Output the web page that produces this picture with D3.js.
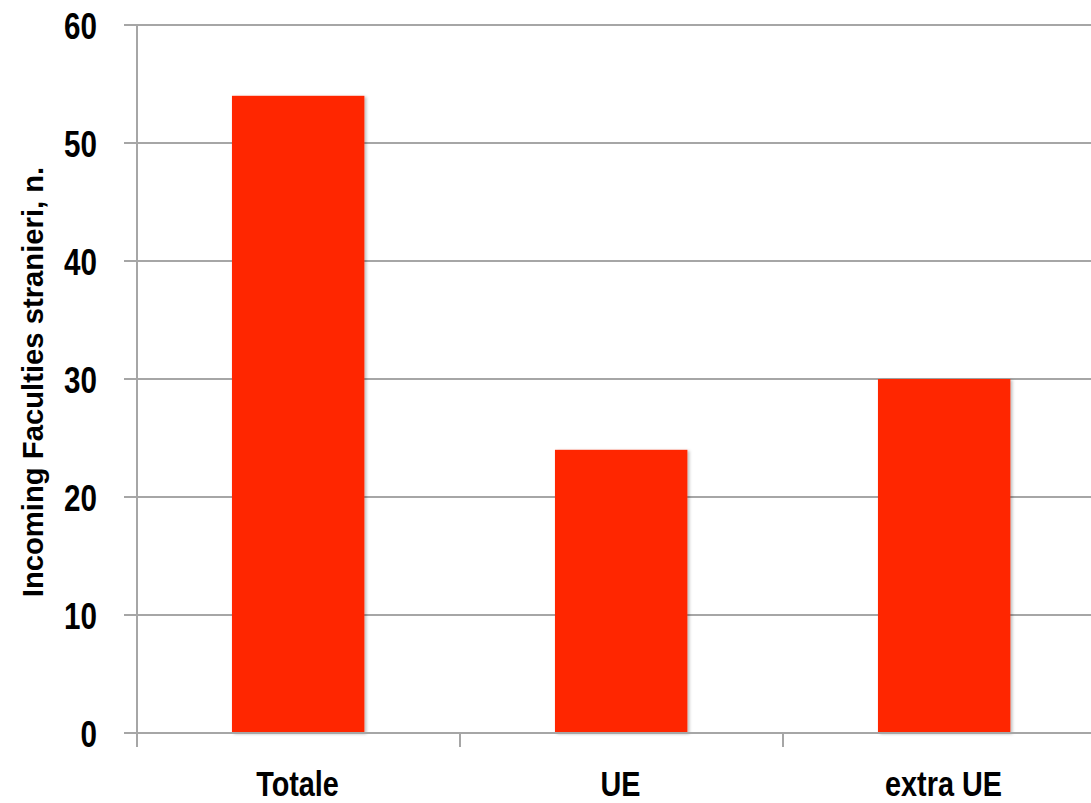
<!DOCTYPE html>
<html><head><meta charset="utf-8">
<script src="https://cdn.jsdelivr.net/npm/d3@7"></script>
<style>
html,body{margin:0;padding:0;background:#fff;overflow:hidden;}
text{font-family:"Liberation Sans",Arial,sans-serif;font-weight:bold;fill:#000;}
</style></head>
<body>
<svg id="c" width="1091" height="803"></svg>
<script>
const categories = ["Totale", "UE", "extra UE"];
const values = [54, 24, 30];
const yTicks = [0, 10, 20, 30, 40, 50, 60];
const yTitle = "Incoming Faculties stranieri, n.";

const NARROW = 0.8;
const svg = d3.select("#c");
const x0 = 137, x1 = 137 + 3 * 323;
const yBottom = 733, yTop = 25;
const x = d3.scaleBand().domain(categories).range([x0, x1]).padding(0);
const y = d3.scaleLinear().domain([0, 60]).range([yBottom, yTop]);

const defs = svg.append("defs");
const f = defs.append("filter").attr("id","sh").attr("x","-10%").attr("y","-10%").attr("width","130%").attr("height","130%");
f.append("feDropShadow").attr("dx",2).attr("dy",1).attr("stdDeviation",1.5).attr("flood-color","#000").attr("flood-opacity",0.25);

// gridlines
svg.append("g").selectAll("line").data(yTicks.filter(d => d > 0)).join("line")
  .attr("x1", 124).attr("x2", 1091)
  .attr("y1", d => y(d)).attr("y2", d => y(d))
  .attr("stroke", "#a6a6a6").attr("stroke-width", 1.8);

// y axis labels
const yAxis = d3.axisLeft(y).tickValues(yTicks).tickSize(0).tickPadding(0);
const ya = svg.append("g").attr("transform", `translate(${124 - 27},0)`).call(yAxis);
ya.select(".domain").remove();
ya.selectAll("text").attr("x", 0).attr("font-size", 37).attr("dy", "0.36em")
  .attr("transform", `scale(${NARROW},1)`)
  .style("font-family", '"Liberation Sans",Arial,sans-serif').style("font-weight","bold").attr("fill","#000");

// bars
svg.append("g").selectAll("rect").data(values).join("rect")
  .attr("x", (d, i) => x(categories[i]) + x.bandwidth() * 0.294)
  .attr("width", x.bandwidth() * 0.41)
  .attr("y", d => y(d))
  .attr("height", d => y(0) - y(d))
  .attr("fill", "#ff2600")
  .attr("filter", "url(#sh)");

// vertical axis line
svg.append("line").attr("x1", x0).attr("x2", x0).attr("y1", yTop).attr("y2", yBottom + 14)
  .attr("stroke", "#a6a6a6").attr("stroke-width", 2);
// baseline
svg.append("line").attr("x1", 124).attr("x2", 1091).attr("y1", yBottom).attr("y2", yBottom)
  .attr("stroke", "#a6a6a6").attr("stroke-width", 2);
// category ticks at band boundaries
svg.append("g").selectAll("line").data(categories.slice(1)).join("line")
  .attr("x1", d => x(d)).attr("x2", d => x(d))
  .attr("y1", yBottom).attr("y2", yBottom + 14)
  .attr("stroke", "#a6a6a6").attr("stroke-width", 2);

// category labels
svg.append("g").selectAll("g").data(categories).join("g")
  .attr("transform", d => `translate(${x(d) + x.bandwidth() / 2 - 1},796)`)
  .append("text")
  .attr("transform", `scale(${NARROW},1)`)
  .attr("text-anchor", "middle")
  .attr("font-size", 36)
  .text(d => d);

// y title
svg.append("g").attr("transform", "translate(43,382) rotate(-90)")
  .append("text")
  .attr("transform", "scale(0.975,1)")
  .attr("text-anchor", "middle")
  .attr("font-size", 30)
  .text(yTitle);
</script>
</body></html>
